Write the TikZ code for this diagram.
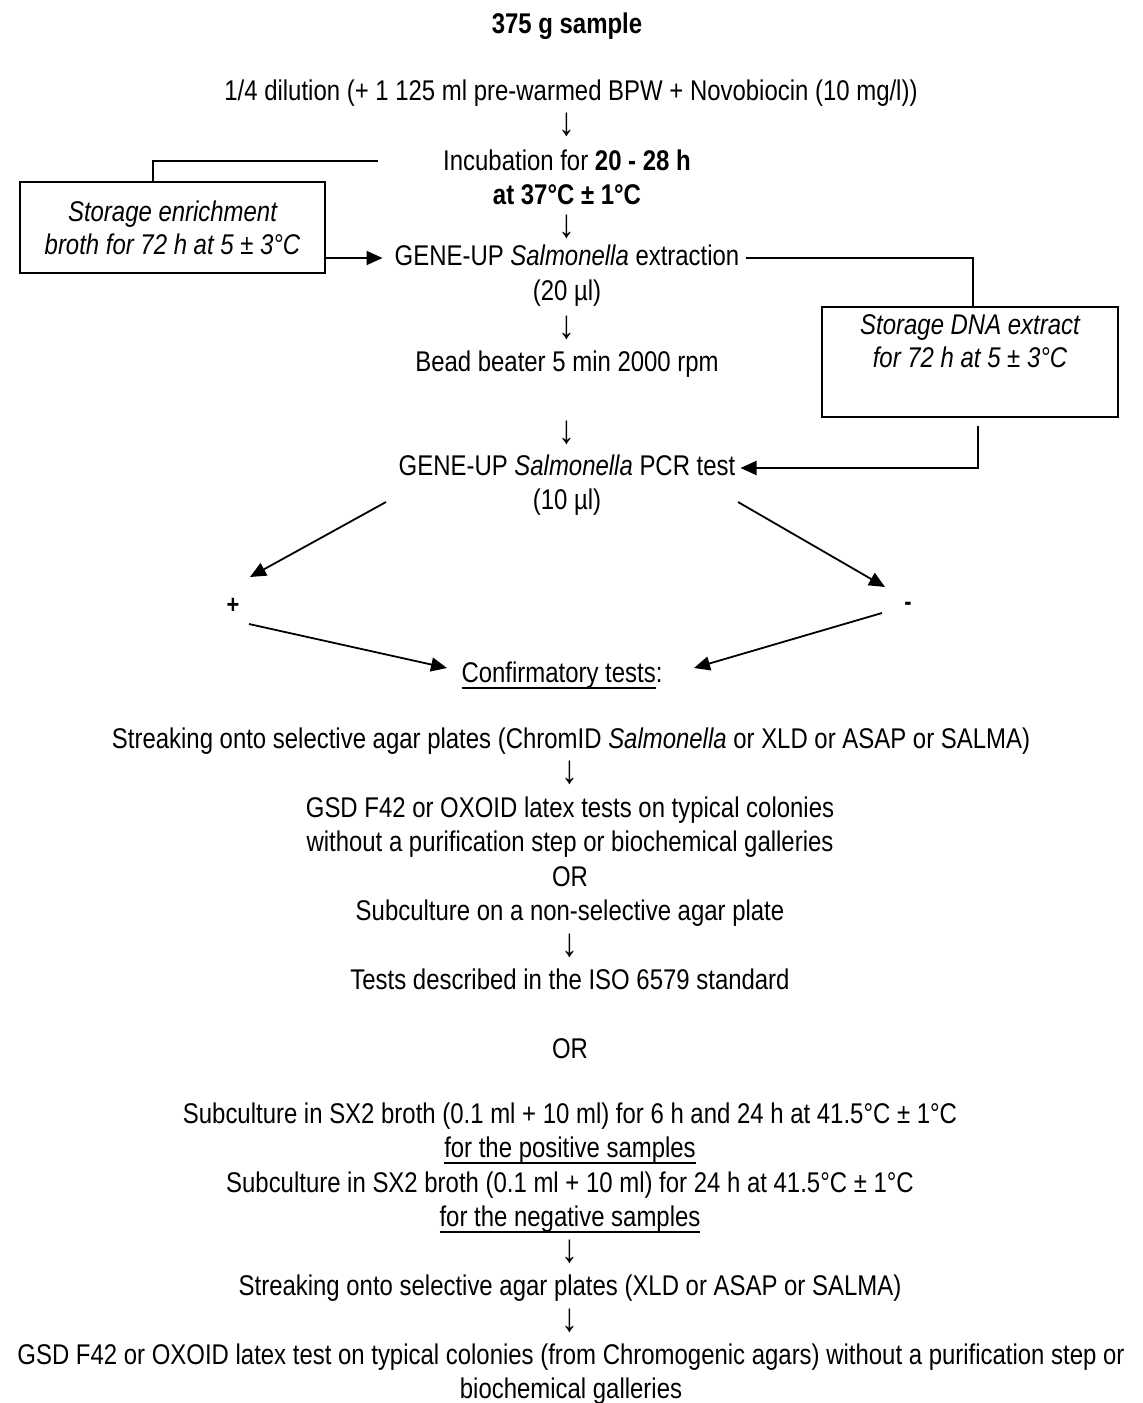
\documentclass[tikz,border=0pt]{standalone}
\usepackage{fontspec}
\setmainfont[FakeStretch=0.84]{Liberation Sans}
\usetikzlibrary{arrows.meta}
\newsavebox\ulbox
\newcommand\ulx[1]{\sbox\ulbox{#1}\rlap{\rule[-7pt]{\wd\ulbox}{2pt}}\usebox\ulbox}
\begin{document}
\begin{tikzpicture}[x=1pt,y=-1pt,
  txt/.style={inner sep=0pt, text height=20pt, text depth=6pt, font=\fontsize{28.5}{34.2}\selectfont},
  darr/.style={inner sep=0pt, font=\fontsize{40}{40}\selectfont},
  sign/.style={inner sep=0pt, font=\fontsize{26}{28}\selectfont\bfseries},
  boxnode/.style={draw, line width=1.8pt, align=center, inner sep=0pt, font=\fontsize{28.5}{33}\selectfont\itshape},
  conn/.style={line width=1.8pt},
  arr/.style={conn, -{Triangle[length=16pt,width=14pt]}}]
\useasboundingbox (0,0) rectangle (1143,1403);
\fill[white] (0,0) rectangle (1143,1403);
% main column
\node[txt, font=\fontsize{28.5}{34.2}\selectfont\bfseries] (title) at (567,26) {375 g sample};
\node[txt] (dil) at (571,93) {1/4 dilution (+ 1 125 ml pre-warmed BPW + Novobiocin (10 mg/l))};
\node[darr] (d1) at (567,125) {↓};
\node[txt] (inc1) at (567,163) {Incubation for \textbf{20 - 28 h}};
\node[txt] (inc2) at (567,197) {\textbf{at 37°C ± 1°C}};
\node[darr] (d2) at (567,227) {↓};
\node[txt] (ext) at (567,258) {GENE-UP \textit{Salmonella} extraction};
\node[txt] (ext20) at (567,293) {(20 µl)};
\node[darr] (d3) at (567,328) {↓};
\node[txt] (bead) at (567,364) {Bead beater 5 min 2000 rpm};
\node[darr] (d4) at (567,433) {↓};
\node[txt] (pcr) at (567,468) {GENE-UP \textit{Salmonella} PCR test};
\node[txt] (pcr10) at (567,502) {(10 µl)};
% side boxes
\node[boxnode, minimum width=305pt, minimum height=91pt] (lbox) at (172.5,227.5)
  {Storage enrichment\\broth for 72 h at 5 ± 3°C};
\node[boxnode, minimum width=296pt, minimum height=110pt] (rbox) at (970,362)
  {Storage DNA extract\\for 72 h at 5 ± 3°C\\\strut};
\coordinate (c1) at (378,161);
\draw[conn] ([xshift=-19.5pt]lbox.north) |- (c1);
\draw[arr, shorten >=12pt] (lbox.east |- ext.west) -- (ext.west);
\draw[conn] ([xshift=6pt]ext.east) -| ([xshift=3pt]rbox.north);
\draw[arr] ([xshift=8pt,yshift=-8pt]rbox.south) |- ([xshift=5pt]pcr.east);
% result branches
\node[sign] (plus) at (233,606) {+};
\node[sign] (minus) at (908,606) {-};
\node[txt] (conf) at (562,675) {\ulx{Confirmatory tests}:};
\coordinate (a1s) at (386,502);
\coordinate (a1e) at (250,577);
\coordinate (a2s) at (738,502);
\coordinate (a2e) at (885,587);
\coordinate (a3s) at (249,624);
\coordinate (a3e) at (447,668);
\coordinate (a4s) at (882,613);
\coordinate (a4e) at (694,668);
\draw[arr] (a1s) -- (a1e);
\draw[arr] (a2s) -- (a2e);
\draw[arr] (a3s) -- (a3e);
\draw[arr] (a4s) -- (a4e);
% confirmation
\node[txt] (s1) at (571,741) {Streaking onto selective agar plates (ChromID \textit{Salmonella} or XLD or ASAP or SALMA)};
\node[darr] (d5) at (570,773) {↓};
\node[txt] (g1) at (570,810) {GSD F42 or OXOID latex tests on typical colonies};
\node[txt] (g2) at (570,844) {without a purification step or biochemical galleries};
\node[txt] (or1) at (570,879) {OR};
\node[txt] (sub1) at (570,913) {Subculture on a non-selective agar plate};
\node[darr] (d6) at (570,946) {↓};
\node[txt] (tests) at (570,982) {Tests described in the ISO 6579 standard};
\node[txt] (or2) at (570,1051) {OR};
\node[txt] (sx1) at (570,1116) {Subculture in SX2 broth (0.1 ml + 10 ml) for 6 h and 24 h at 41.5°C ± 1°C};
\node[txt] (pos) at (570,1150) {\ulx{for the positive samples}};
\node[txt] (sx2) at (570,1185) {Subculture in SX2 broth (0.1 ml + 10 ml) for 24 h at 41.5°C ± 1°C};
\node[txt] (neg) at (570,1219) {\ulx{for the negative samples}};
\node[darr] (d7) at (570,1252) {↓};
\node[txt] (s2) at (570,1288) {Streaking onto selective agar plates (XLD or ASAP or SALMA)};
\node[darr] (d8) at (570,1321) {↓};
\node[txt] (g3) at (571,1357) {GSD F42 or OXOID latex test on typical colonies (from Chromogenic agars) without a purification step or};
\node[txt] (g4) at (571,1391) {biochemical galleries};
\end{tikzpicture}
\end{document}
